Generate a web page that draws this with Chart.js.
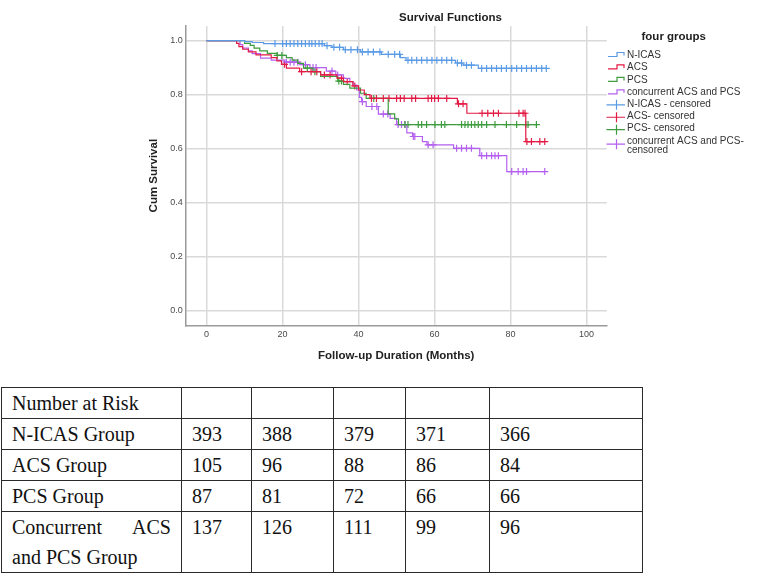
<!DOCTYPE html>
<html>
<head>
<meta charset="utf-8">
<script src="https://cdn.jsdelivr.net/npm/chart.js@4.4.0/dist/chart.umd.min.js"></script>
<style>
    body { margin: 0; background: #fff; width: 767px; height: 577px; position: relative; overflow: hidden; }
    #chartBox { position: absolute; left: 0; top: 0; width: 767px; height: 385px; }
    #risk { position: absolute; left: 1px; top: 387px; border-collapse: collapse; table-layout: fixed; width: 641px;
        font-family: "Liberation Serif", "Times New Roman", serif; font-size: 20px; color: #111; }
    #risk td { border: 1.4px solid #2a2a2a; padding: 0 10px; line-height: 30px; vertical-align: top; }
    #risk td.label { text-align: justify; }
</style>
</head>
<body>
<div id="chartBox"><canvas id="survChart" width="767" height="385"></canvas></div>
<table id="risk">
    <colgroup>
        <col style="width:180px"><col style="width:70px"><col style="width:82px">
        <col style="width:72px"><col style="width:84px"><col style="width:153px">
    </colgroup>
    <tbody></tbody>
</table>
<script>
const fontFamily = "'Liberation Sans', Arial, sans-serif"

// axes
const xTicks = [0, 20, 40, 60, 80, 100]
const yTicks = [0, 0.2, 0.4, 0.6, 0.8, 1.0]

// legend
const groupNames = ["N-ICAS", "ACS", "PCS", "concurrent ACS and PCS"]
const censoredNames = ["N-ICAS - censored", "ACS- censored", "PCS- censored", ["concurrent ACS and PCS-", "censored"]]
const groupColors = ["#5b9be6", "#e31a44", "#3d9c3d", "#b45ff0"]

// Kaplan-Meier steps: time (months) -> cum survival, plus censored times
const nicasTimes = [0, 10, 12, 15, 31, 33, 36, 40.5, 46, 51, 52.5, 65.5, 67.5, 71.5]
const nicasSurv = [1.0, 0.996, 0.993, 0.989, 0.981, 0.975, 0.966, 0.958, 0.949, 0.937, 0.927, 0.917, 0.909, 0.897]
const nicasCensored = [18, 20, 21, 22, 23, 24, 25, 26, 27, 27.7, 28.6, 29.6, 30.4, 31.7, 33.5, 35, 36.5, 38, 39.7,
    41, 42.5, 43.9, 45.6, 47.8, 49.5, 50.8, 53, 54, 55.3, 56.6, 58, 59.3, 60.6, 61.9, 63.2, 64.5, 66, 67.1, 68.4,
    69.7, 72.4, 73.7, 75, 76.3, 77.6, 78.9, 80.3, 81.6, 82.9, 84.2, 85.5, 86.8, 88.2, 89.4]

const acsTimes = [0, 7.9, 8.5, 9.5, 11, 13, 17, 18.5, 19.7, 21, 24.5, 30, 34.3, 36, 38.5, 40, 41.5, 43, 66, 68.5, 84]
const acsSurv = [1.0, 0.99, 0.978, 0.968, 0.958, 0.947, 0.937, 0.925, 0.912, 0.898, 0.885, 0.873, 0.861, 0.848,
    0.832, 0.817, 0.8, 0.786, 0.766, 0.731, 0.626]
const acsCensored = [20.5, 25, 27.5, 29, 31, 32.5, 35.5, 37, 39, 43.4, 44.7, 46.5, 48, 50, 51, 52, 54, 55, 58.3,
    59.2, 60, 61, 63.2, 66.3, 67.5, 72.5, 74, 75.5, 76.8, 82.2, 83.3, 83.8, 84.3, 85.5, 87.7, 89]

const pcsTimes = [0, 10, 11.5, 12.5, 14, 16, 18.5, 21, 22.5, 24, 25.5, 28, 30, 34.5, 36, 37.7, 40.5, 42, 47.8, 49.5, 50.5]
const pcsSurv = [1.0, 0.99, 0.982, 0.972, 0.962, 0.953, 0.945, 0.937, 0.928, 0.916, 0.898, 0.885, 0.867, 0.85,
    0.838, 0.824, 0.805, 0.786, 0.729, 0.71, 0.689]
const pcsCensored = [18.6, 19.8, 26.5, 28.5, 34.8, 35.5, 44, 52.2, 53, 55.7, 56.6, 57.9, 60.1, 61.8, 62.7, 67.1,
    68, 68.8, 69.7, 70.6, 71.5, 72.4, 73.7, 75.9, 78.9, 81.6, 84, 84.6, 86.8]

const bothTimes = [0, 8.8, 9.5, 11, 12, 14.2, 17, 20.6, 24.5, 27.2, 31.5, 34, 36, 37.7, 38.6, 39.5, 40.2, 40.8, 42,
    45.2, 48.3, 50, 52.7, 54.2, 56.8, 58, 65, 71.9, 79]
const bothSurv = [1.0, 0.985, 0.972, 0.962, 0.952, 0.935, 0.928, 0.92, 0.911, 0.9, 0.887, 0.873, 0.86, 0.848, 0.835,
    0.817, 0.79, 0.774, 0.756, 0.728, 0.712, 0.689, 0.658, 0.645, 0.626, 0.614, 0.601, 0.574, 0.515]
const bothCensored = [21, 22, 23, 24, 26, 28, 28.8, 33, 34.5, 41, 43.5, 44.8, 46.5, 47.7, 50.4, 51.3, 52.2, 54.4,
    54.8, 58.3, 59.6, 65.8, 67.1, 68.4, 69.7, 72.4, 73.7, 75, 75.9, 76.8, 80.3, 82, 83.3, 84.2, 89]

// number at risk table
const riskTitle = "Number at Risk"
const riskLabels = ["N-ICAS Group", "ACS Group", "PCS Group", "Concurrent ACS and PCS Group"]
const riskNICAS = [393, 388, 379, 371, 366]
const riskACS = [105, 96, 88, 86, 84]
const riskPCS = [87, 81, 72, 66, 66]
const riskBoth = [137, 126, 111, 99, 96]

const groups = [
    [nicasTimes, nicasSurv, nicasCensored],
    [acsTimes, acsSurv, acsCensored],
    [pcsTimes, pcsSurv, pcsCensored],
    [bothTimes, bothSurv, bothCensored],
]

function survivalAt(times, surv, t) {
    let s = surv[0]
    times.forEach((tt, i) => { if (tt <= t) s = surv[i] })
    return s
}

function stepPoints(times, surv, censored) {
    const pts = times.map((t, i) => ({ x: t, y: surv[i] }))
    const last = censored[censored.length - 1]
    if (last > times[times.length - 1]) pts.push({ x: last, y: surv[surv.length - 1] })
    return pts
}

const datasets = []
groups.forEach(([times, surv, cens], i) => {
    datasets.push({
        label: groupNames[i],
        data: stepPoints(times, surv, cens),
        borderColor: groupColors[i],
        borderWidth: 1.2,
        stepped: true,
        pointRadius: 0,
        fill: false,
    })
})
groups.forEach(([times, surv, cens], i) => {
    datasets.push({
        label: censoredNames[i],
        data: cens.map((t) => ({ x: t, y: survivalAt(times, surv, t) })),
        showLine: false,
        pointStyle: "cross",
        pointRadius: 3.5,
        pointBorderWidth: 1.2,
        borderColor: groupColors[i],
        backgroundColor: groupColors[i],
    })
})

// title + SPSS style legend
const overlay = {
    id: "overlay",
    afterDraw(chart) {
        const ctx = chart.ctx
        ctx.save()
        ctx.fillStyle = "#1e1e1e"
        ctx.font = "bold 11.5px " + fontFamily
        ctx.textBaseline = "middle"
        ctx.textAlign = "center"
        ctx.fillText("Survival Functions", 450.5, 17.5)
        ctx.textAlign = "left"
        ctx.fillText("four groups", 641.5, 37)

        ctx.font = "10px " + fontFamily
        const step = 12.45
        let y = 55
        groupNames.forEach((name, i) => {
            ctx.strokeStyle = groupColors[i]
            ctx.lineWidth = 1.2
            ctx.beginPath()
            ctx.moveTo(608, y + 1.5)
            ctx.lineTo(617, y + 1.5)
            ctx.lineTo(617, y - 2.5)
            ctx.lineTo(624, y - 2.5)
            ctx.lineTo(624, y + 0.5)
            ctx.stroke()
            ctx.fillStyle = "#333"
            ctx.fillText(name, 627, y)
            y += step
        })
        censoredNames.forEach((name, i) => {
            const lines = Array.isArray(name) ? name : [name]
            const cy = y + (lines.length - 1) * 2
            ctx.strokeStyle = groupColors[i]
            ctx.beginPath()
            ctx.moveTo(606.5, cy)
            ctx.lineTo(625, cy)
            ctx.moveTo(616.5, cy - 5)
            ctx.lineTo(616.5, cy + 5)
            ctx.stroke()
            ctx.fillStyle = "#333"
            lines.forEach((l, k) => ctx.fillText(l, 627, y - 1 + k * 9))
            y += step
        })
        ctx.restore()
    },
}

const gridStyle = { color: "#d9d9d9", lineWidth: 1.5, drawTicks: false }
const borderStyle = { display: true, color: "#9a9a9a", width: 1.5 }
const tickFont = { family: fontFamily, size: 9 }
const titleFont = { family: fontFamily, size: 11.5, weight: "bold" }

new Chart(document.getElementById("survChart"), {
    type: "line",
    data: { datasets },
    options: {
        responsive: false,
        animation: false,
        events: [],
        layout: { padding: { left: 144, right: 160.3, top: 26, bottom: 9.7 } },
        plugins: {
            legend: { display: false },
            title: { display: false },
            tooltip: { enabled: false },
        },
        scales: {
            x: {
                type: "linear",
                min: -5.5,
                max: 105.3,
                afterBuildTicks: (s) => { s.ticks = xTicks.map((v) => ({ value: v })) },
                afterFit: (s) => { s.height = 50 },
                grid: gridStyle,
                border: borderStyle,
                ticks: { padding: 4.3, color: "#4a4a4a", font: tickFont, maxRotation: 0, autoSkip: false },
                title: {
                    display: true,
                    text: "Follow-up Duration (Months)",
                    color: "#222",
                    font: titleFont,
                    padding: { top: 0, bottom: 12.7 },
                },
            },
            y: {
                type: "linear",
                min: -0.054,
                max: 1.054,
                afterBuildTicks: (s) => { s.ticks = yTicks.map((v) => ({ value: v })) },
                afterFit: (s) => { s.width = 41.7 },
                grid: gridStyle,
                border: borderStyle,
                ticks: {
                    padding: 3,
                    color: "#4a4a4a",
                    font: tickFont,
                    callback: (v) => Number(v).toFixed(1),
                },
                title: {
                    display: true,
                    text: "Cum Survival",
                    color: "#222",
                    font: titleFont,
                    padding: { top: 3.1, bottom: 0 },
                },
            },
        },
    },
    plugins: [overlay],
})

// build number at risk table
const tbody = document.querySelector("#risk tbody")
function addRow(label, values) {
    const tr = document.createElement("tr")
    const th = document.createElement("td")
    th.className = "label"
    th.textContent = label
    tr.appendChild(th)
    values.forEach((v) => {
        const td = document.createElement("td")
        td.textContent = v
        tr.appendChild(td)
    })
    tbody.appendChild(tr)
}
addRow(riskTitle, ["", "", "", "", ""])
;[riskNICAS, riskACS, riskPCS, riskBoth].forEach((vals, i) => addRow(riskLabels[i], vals))
</script>
</body>
</html>
